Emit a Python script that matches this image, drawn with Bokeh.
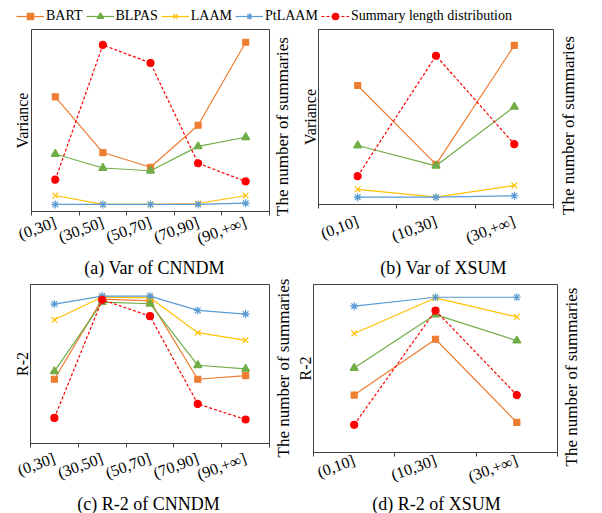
import math
from bokeh.plotting import figure
from bokeh.models import Range1d, FixedTicker, Legend, LegendItem
from bokeh.core.properties import value
from bokeh.layouts import column, row
from bokeh.embed import file_html
from bokeh.resources import INLINE

# ---------------- data (relative positions, no numeric ticks in source) -------------
cnndm_bins = ["(0,30]", "(30,50]", "(50,70]", "(70,90]", "(90,+\u221e]"]
xsum_bins = ["(0,10]", "(10,30]", "(30,+\u221e]"]

var_cnndm_bart = [63.0, 32.4, 24.3, 47.4, 93.0]
var_cnndm_blpas = [31.6, 23.9, 22.4, 35.8, 40.8]
var_cnndm_laam = [8.8, 3.9, 3.9, 4.4, 8.8]
var_cnndm_ptlaam = [3.9, 3.9, 3.9, 3.9, 4.6]
var_cnndm_count = [17.5, 91.5, 81.6, 26.5, 16.5]

var_xsum_bart = [68.0, 22.9, 90.9]
var_xsum_blpas = [33.7, 22.1, 55.8]
var_xsum_laam = [8.6, 4.2, 10.9]
var_xsum_ptlaam = [4.2, 4.2, 5.0]
var_xsum_count = [16.2, 85.0, 34.5]

r2_cnndm_bart = [40.4, 90.8, 89.7, 40.4, 42.7]
r2_cnndm_blpas = [45.4, 88.9, 87.9, 49.2, 46.9]
r2_cnndm_laam = [77.8, 92.1, 91.6, 69.7, 64.9]
r2_cnndm_ptlaam = [87.7, 92.7, 92.7, 83.7, 81.4]
r2_cnndm_count = [16.1, 90.4, 80.1, 24.9, 15.1]

r2_xsum_bart = [34.2, 67.4, 17.9]
r2_xsum_blpas = [50.3, 82.1, 66.6]
r2_xsum_laam = [70.8, 92.0, 80.7]
r2_xsum_ptlaam = [87.1, 92.4, 92.4]
r2_xsum_count = [16.5, 84.5, 34.2]

series_names = ["BART", "BLPAS", "LAAM", "PtLAAM", "Summary length distribution"]
right_label = "The number of summaries"
captions = ["(a) Var of CNNDM", "(b) Var of XSUM", "(c) R-2 of CNNDM", "(d) R-2 of XSUM"]
# ------------------------------------------------------------------------------------

FONT = "Liberation Serif"
AXC = "#404040"
STYLES = [
    dict(color="#ED7D31", marker="square", size=6, dash="solid"),
    dict(color="#70AD47", marker="triangle", size=8, dash="solid"),
    dict(color="#FFC000", marker="x", size=8, dash="solid"),
    dict(color="#5B9BD5", marker="asterisk", size=8, dash="solid"),
    dict(color="#FF0000", marker="circle", size=7, dash="3 2"),
]


def blank(width, height):
    p = figure(width=width, height=height, output_backend="svg",
               toolbar_location=None, x_range=Range1d(0, width),
               y_range=Range1d(0, height), min_border=0,
               x_axis_location=None, y_axis_location=None, frame_align=False)
    p.outline_line_color = None
    p.grid.visible = False
    p.background_fill_color = "white"
    p.border_fill_color = "white"
    return p


def add_text(p, x, y, txt, size):
    p.text(x=[x], y=[y], text=[txt], text_font=value(FONT),
           text_font_size=value(size), text_color="black",
           text_align="center", text_baseline="middle")


def side_label(width, height, bl, bt, bb, standoff):
    """Thin figure whose (left) axis label carries a vertical caption."""
    p = figure(width=width, height=height, output_backend="svg",
               toolbar_location=None, x_range=Range1d(0, 1),
               y_range=Range1d(0, 1), min_border_left=bl, min_border_right=0,
               min_border_top=bt, min_border_bottom=bb,
               x_axis_location=None, frame_align=False)
    p.outline_line_color = None
    p.grid.visible = False
    p.background_fill_color = "white"
    p.border_fill_color = "white"
    ya = p.yaxis[0]
    ya.ticker = FixedTicker(ticks=[])
    ya.axis_line_color = None
    ya.major_tick_out = 0
    ya.major_tick_in = 0
    ya.minor_tick_out = 0
    ya.major_label_standoff = 0
    ya.axis_label = right_label
    ya.axis_label_text_font = FONT
    ya.axis_label_text_font_size = "17px"
    ya.axis_label_text_font_style = "normal"
    ya.axis_label_text_color = "black"
    ya.axis_label_standoff = standoff
    return p


def panel(bins, series, ylabel, width, height, bl, br, bt, bb, sl, tick_standoff):
    n = len(bins)
    p = figure(width=width, height=height, output_backend="svg",
               toolbar_location=None,
               x_range=Range1d(-0.5, n - 0.5), y_range=Range1d(0, 100),
               min_border_left=bl, min_border_right=br,
               min_border_top=bt, min_border_bottom=bb, frame_align=False)
    p.extra_y_ranges = {"count": Range1d(0, 100)}
    p.grid.visible = False
    p.outline_line_color = AXC
    p.outline_line_alpha = 1.0
    p.background_fill_color = "white"
    p.border_fill_color = "white"
    xs = list(range(n))
    for i, (vals, st) in enumerate(zip(series, STYLES)):
        kw = {}
        if i == 4:
            kw["y_range_name"] = "count"
        p.line(xs, vals, line_color=st["color"], line_width=1.2,
               line_dash=st["dash"], **kw)
        p.scatter(xs, vals, marker=st["marker"], size=st["size"],
                  fill_color=st["color"], line_color=st["color"],
                  line_width=1.2, **kw)

    xa = p.xaxis[0]
    xa.ticker = FixedTicker(ticks=xs, minor_ticks=[i - 0.5 for i in range(n + 1)])
    xa.major_label_overrides = {i: b for i, b in enumerate(bins)}
    xa.major_tick_out = 0
    xa.major_tick_in = 0
    xa.minor_tick_out = 4
    xa.minor_tick_in = 0
    xa.minor_tick_line_color = AXC
    xa.axis_line_color = AXC
    xa.major_label_orientation = 0.35
    xa.major_label_text_font = FONT
    xa.major_label_text_font_size = "16px"
    xa.major_label_text_color = "black"
    xa.major_label_standoff = tick_standoff

    ya = p.yaxis[0]
    ya.ticker = FixedTicker(ticks=[])
    ya.axis_line_color = AXC
    ya.major_tick_out = 0
    ya.major_tick_in = 0
    ya.minor_tick_out = 0
    ya.major_label_standoff = 0
    ya.axis_label = ylabel
    ya.axis_label_text_font = FONT
    ya.axis_label_text_font_size = "16px"
    ya.axis_label_text_font_style = "normal"
    ya.axis_label_text_color = "black"
    ya.axis_label_standoff = sl
    return p


# ---- legend strip ----
leg = figure(width=602, height=24, output_backend="svg", toolbar_location=None,
             x_range=Range1d(0, 1), y_range=Range1d(1000, 1001), min_border=0,
             x_axis_location=None, y_axis_location=None, frame_align=False)
leg.outline_line_color = None
leg.grid.visible = False
items = []
leg_series = [var_cnndm_bart, var_cnndm_blpas, var_cnndm_laam,
              var_cnndm_ptlaam, var_cnndm_count]
for name, st, vals in zip(series_names, STYLES, leg_series):
    xs = list(range(len(vals)))
    lr = leg.line(xs, vals, line_color=st["color"], line_width=1.2, line_dash=st["dash"])
    sr_ = leg.scatter(xs, vals, marker=st["marker"], size=st["size"],
                      fill_color=st["color"], line_color=st["color"], line_width=1.2)
    items.append(LegendItem(label=name, renderers=[lr, sr_]))
legend = Legend(items=items, orientation="horizontal", location=(16, 0),
                padding=0, margin=0, border_line_color=None,
                background_fill_alpha=0, glyph_width=28, glyph_height=16,
                label_height=16, label_standoff=2, spacing=3,
                label_text_font=FONT, label_text_font_size="14px",
                label_text_color="black")
leg.add_layout(legend)

# ---- row 1 (height 234) ----
H1 = 234
pa = panel(cnndm_bins, [var_cnndm_bart, var_cnndm_blpas, var_cnndm_laam,
                        var_cnndm_ptlaam, var_cnndm_count],
           "Variance", 270, H1, 31, 1, 5, 47, 1, 6)
m1 = side_label(22, H1, 21, 52, 82, 1)
pb = panel(xsum_bins, [var_xsum_bart, var_xsum_blpas, var_xsum_laam,
                       var_xsum_ptlaam, var_xsum_count],
           "Variance", 262, H1, 26, 1, 5, 54, 0, 12)
r1 = side_label(48, H1, 24, 51, 83, 1)

cap1 = blank(602, 20)
add_text(cap1, 154, 11, captions[0], "18px")
add_text(cap1, 443, 11, captions[1], "18px")

# ---- row 2 (height 217) ----
H2 = 217
pc = panel(cnndm_bins, [r2_cnndm_bart, r2_cnndm_blpas, r2_cnndm_laam,
                        r2_cnndm_ptlaam, r2_cnndm_count],
           "R-2", 270, H2, 30, 1, 6, 52, 0, 10)
m2 = side_label(22, H2, 21, 40, 78, 0)
pd = panel(xsum_bins, [r2_xsum_bart, r2_xsum_blpas, r2_xsum_laam,
                       r2_xsum_ptlaam, r2_xsum_count],
           "R-2", 266, H2, 21, 1, 6, 43, 0, 3)
r2 = side_label(44, H2, 22, 50, 70, 0)

cap2 = blank(602, 18)
add_text(cap2, 148, 10, captions[2], "18px")
add_text(cap2, 436, 10, captions[3], "18px")

layout = column(leg, row(pa, m1, pb, r1), cap1, row(pc, m2, pd, r2), cap2)
open("out.html", "w").write(file_html(layout, INLINE))
